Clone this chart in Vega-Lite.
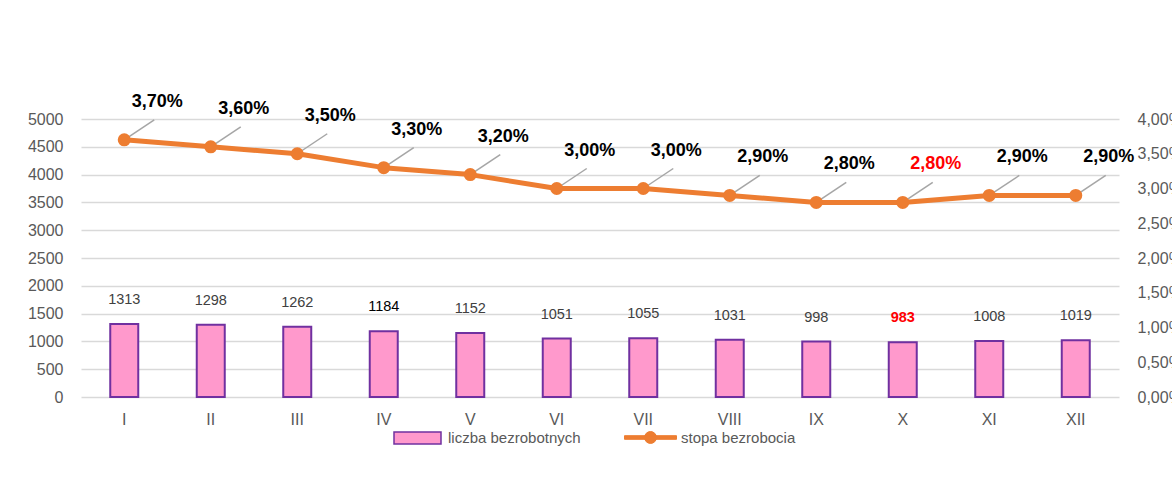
{
  "$schema": "https://vega.github.io/schema/vega-lite/v6.json",
  "autosize": {"type": "none"},
  "width": 1038,
  "height": 278,
  "padding": {"left": 81, "top": 119, "right": 53, "bottom": 98},
  "background": "white",
  "config": {
    "view": {"stroke": null},
    "font": "Liberation Sans",
    "locale": {"number": {"decimal": ",", "thousands": " ", "grouping": [3], "currency": ["", " zł"]}}
  },
  "data": {
    "values": [
      {"month": "I", "count": 1313, "pct": 0.037},
      {"month": "II", "count": 1298, "pct": 0.036},
      {"month": "III", "count": 1262, "pct": 0.035},
      {"month": "IV", "count": 1184, "pct": 0.033},
      {"month": "V", "count": 1152, "pct": 0.032},
      {"month": "VI", "count": 1051, "pct": 0.030},
      {"month": "VII", "count": 1055, "pct": 0.030},
      {"month": "VIII", "count": 1031, "pct": 0.029},
      {"month": "IX", "count": 998, "pct": 0.028},
      {"month": "X", "count": 983, "pct": 0.028},
      {"month": "XI", "count": 1008, "pct": 0.029},
      {"month": "XII", "count": 1019, "pct": 0.029}
    ]
  },
  "encoding": {
    "x": {
      "field": "month", "type": "ordinal", "sort": null,
      "scale": {"type": "band", "paddingInner": 0, "paddingOuter": 0},
      "axis": {"title": null, "labelAngle": 0, "domain": false, "ticks": false, "labelPadding": 14, "labelFontSize": 16, "labelColor": "#595959", "labelFont": "Liberation Sans"}
    }
  },
  "layer": [
    {
      "encoding": {
        "y": {
          "field": "count", "type": "quantitative",
          "scale": {"domain": [0, 5000], "nice": false, "zero": true},
          "axis": {"title": null, "orient": "left", "values": [0, 500, 1000, 1500, 2000, 2500, 3000, 3500, 4000, 4500, 5000], "format": "d", "domain": false, "ticks": false, "labelPadding": 18, "labelFontSize": 16, "labelColor": "#595959", "grid": true, "gridColor": "#D9D9D9", "gridWidth": 1.5}
        }
      },
      "layer": [
        {
          "mark": {"type": "bar", "width": 28, "stroke": "#7030A0", "strokeWidth": 2},
          "encoding": {
            "fill": {
              "datum": "liczba bezrobotnych",
              "scale": {"domain": ["liczba bezrobotnych"], "range": ["#FF99CC"]},
              "legend": {
                "title": null, "orient": "none", "direction": "horizontal",
                "legendX": 312, "legendY": 294.5,
                "symbolType": "M-1,-0.255L1,-0.255L1,0.255L-1,0.255Z",
                "symbolSize": 2209, "symbolStrokeColor": "#7030A0", "symbolStrokeWidth": 1.5, "symbolFillColor": "#FF99CC", "symbolOpacity": 1,
                "labelFontSize": 15, "labelColor": "#595959", "labelOffset": 6
              }
            }
          }
        },
        {
          "transform": [{"filter": "datum.month !== 'X'"}],
          "mark": {"type": "text", "dy": -24, "baseline": "middle", "fontSize": 14.5, "font": "Liberation Sans"},
          "encoding": {
            "text": {"field": "count", "type": "quantitative", "format": "d"},
            "color": {"condition": {"test": "datum.month === 'IV'", "value": "#000000"}, "value": "#404040"}
          }
        },
        {
          "transform": [{"filter": "datum.month === 'X'"}],
          "mark": {"type": "text", "dy": -24, "baseline": "middle", "fontSize": 14.5, "fontWeight": "bold", "color": "#FF0000", "font": "Liberation Sans"},
          "encoding": {
            "text": {"field": "count", "type": "quantitative", "format": "d"}
          }
        }
      ]
    },
    {
      "encoding": {
        "y": {
          "field": "pct", "type": "quantitative",
          "scale": {"domain": [0, 0.04], "nice": false, "zero": true},
          "axis": {"title": null, "orient": "right", "values": [0, 0.005, 0.01, 0.015, 0.02, 0.025, 0.03, 0.035, 0.04], "format": ".2%", "domain": false, "ticks": false, "grid": false, "labelPadding": 18, "labelFontSize": 16, "labelColor": "#595959"}
        }
      },
      "layer": [
        {
          "mark": {"type": "rule", "color": "#A6A6A6", "strokeWidth": 1.5, "x2Offset": 30, "y2Offset": -20},
          "encoding": {
            "x2": {"field": "month"},
            "y2": {"field": "pct"}
          }
        },
        {
          "mark": {"type": "line", "strokeWidth": 5, "strokeCap": "round", "strokeJoin": "round"},
          "encoding": {
            "stroke": {
              "datum": "stopa bezrobocia",
              "scale": {"domain": ["stopa bezrobocia"], "range": ["#ED7D31"]},
              "legend": {
                "title": null, "orient": "none", "direction": "horizontal",
                "legendX": 543, "legendY": 292,
                "symbolType": "M-1,-0.07L1,-0.07L1,0.07L-1,0.07Z M0.23,0A0.23,0.23 0 1,1 -0.23,0A0.23,0.23 0 1,1 0.23,0Z",
                "symbolSize": 2704, "symbolFillColor": "#ED7D31", "symbolStrokeColor": "#ED7D31", "symbolStrokeWidth": 1, "symbolOpacity": 1,
                "labelFontSize": 15, "labelColor": "#595959", "labelOffset": 4
              }
            }
          }
        },
        {
          "mark": {"type": "point", "filled": true, "size": 170, "opacity": 1, "color": "#ED7D31"}
        },
        {
          "transform": [{"filter": "datum.month !== 'X'"}],
          "mark": {"type": "text", "dx": 33, "dy": -38, "baseline": "middle", "fontSize": 18, "fontWeight": "bold", "color": "#000000", "font": "Liberation Sans"},
          "encoding": {"text": {"field": "pct", "type": "quantitative", "format": ".2%"}}
        },
        {
          "transform": [{"filter": "datum.month === 'X'"}],
          "mark": {"type": "text", "dx": 33, "dy": -38, "baseline": "middle", "fontSize": 18, "fontWeight": "bold", "color": "#FF0000", "font": "Liberation Sans"},
          "encoding": {"text": {"field": "pct", "type": "quantitative", "format": ".2%"}}
        }
      ]
    }
  ],
  "resolve": {"scale": {"y": "independent"}, "axis": {"y": "independent"}}
}
